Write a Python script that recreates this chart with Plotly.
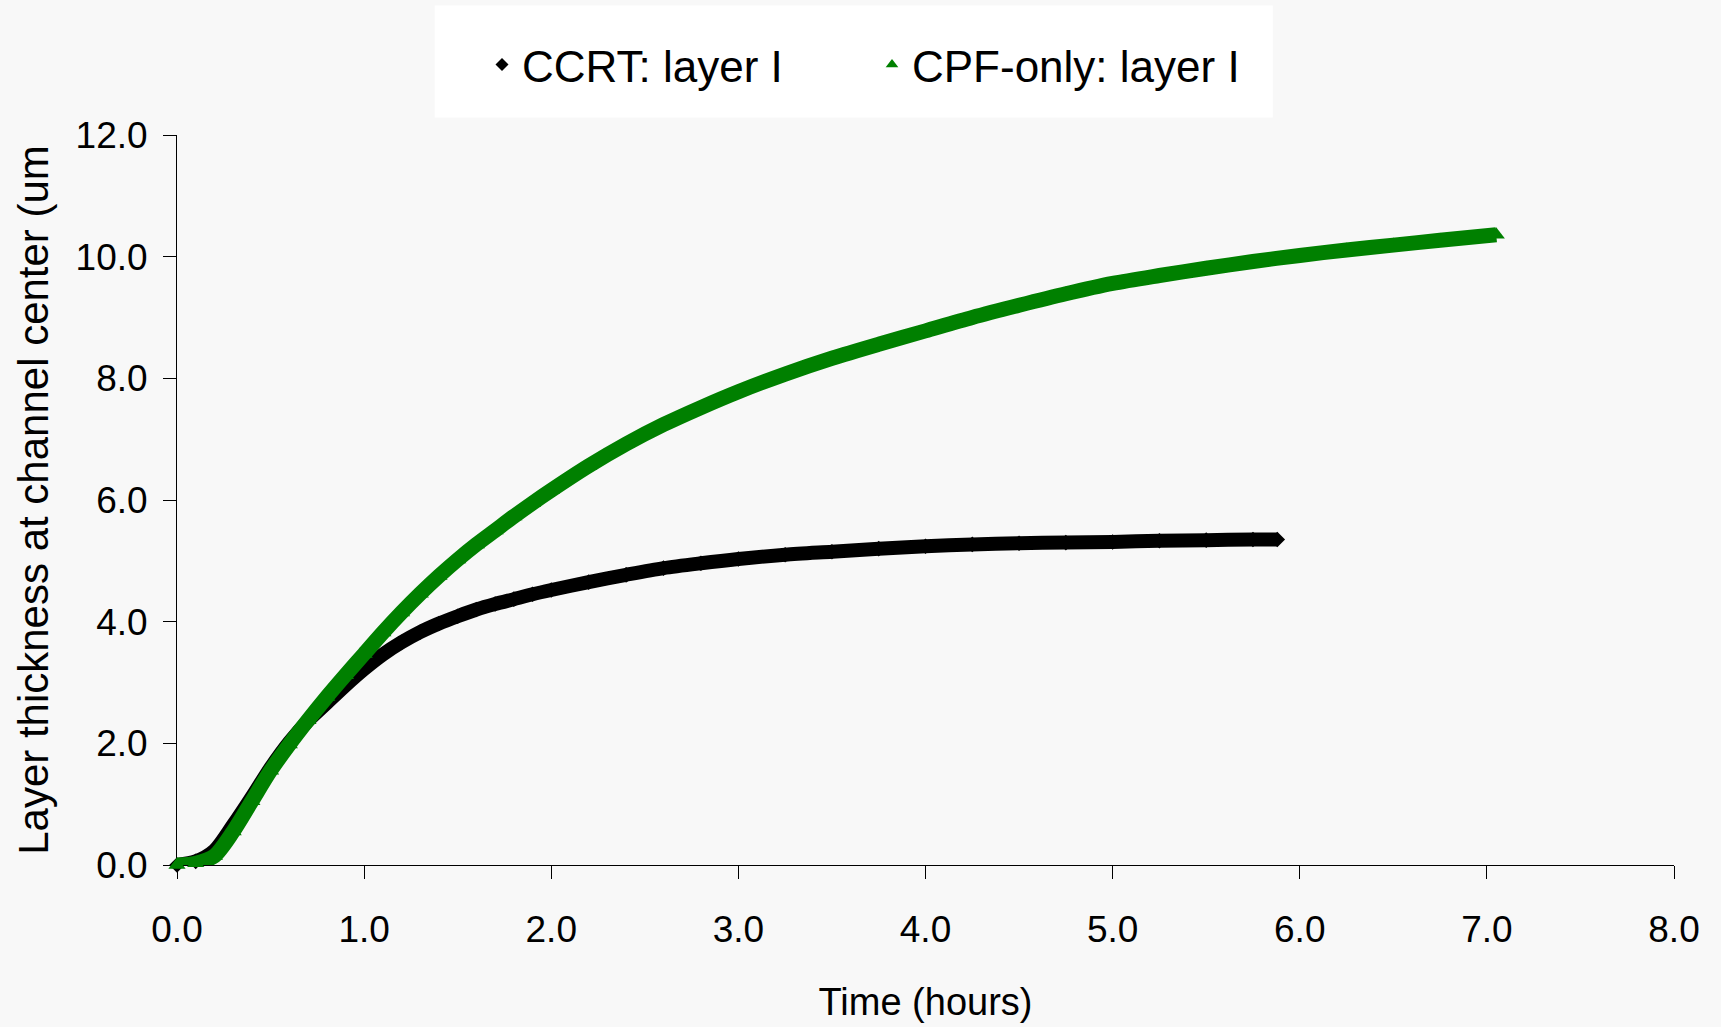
import plotly.graph_objects as go

# Layer I thickness at the channel center over time
ccrt_time = [0.0, 0.1, 0.2, 0.3, 0.4, 0.5, 0.6, 0.7, 0.8, 0.9,
             1.0, 1.1, 1.2, 1.3, 1.4, 1.5, 1.6, 1.7, 1.8, 1.9,
             2.0, 2.2, 2.4, 2.6, 2.8, 3.0, 3.25, 3.5, 3.75, 4.0,
             4.25, 4.5, 4.75, 5.0, 5.25, 5.5, 5.75, 5.88]
ccrt_thickness = [0.00, 0.06, 0.24, 0.66, 1.12, 1.60, 2.02, 2.37, 2.66, 2.95,
                  3.22, 3.46, 3.66, 3.83, 3.97, 4.09, 4.20, 4.29, 4.37, 4.45,
                  4.52, 4.65, 4.77, 4.88, 4.96, 5.03, 5.10, 5.15, 5.20, 5.24,
                  5.27, 5.29, 5.30, 5.31, 5.33, 5.34, 5.35, 5.35]

cpf_time = [0.0, 0.1, 0.2, 0.3, 0.4, 0.5, 0.6, 0.7, 0.8, 0.9,
            1.0, 1.1, 1.2, 1.3, 1.4, 1.5, 1.6, 1.7, 1.8, 1.9,
            2.0, 2.2, 2.4, 2.6, 2.8, 3.0, 3.25, 3.5, 3.75, 4.0,
            4.25, 4.5, 4.75, 5.0, 5.25, 5.5, 5.75, 6.0, 6.25, 6.5,
            6.75, 7.05]
cpf_thickness = [0.00, 0.03, 0.15, 0.55, 1.05, 1.55, 1.98, 2.38, 2.76, 3.12,
                 3.47, 3.82, 4.15, 4.46, 4.75, 5.02, 5.27, 5.50, 5.73, 5.95,
                 6.16, 6.56, 6.92, 7.24, 7.52, 7.78, 8.07, 8.33, 8.56, 8.78,
                 9.00, 9.20, 9.39, 9.56, 9.69, 9.81, 9.92, 10.02, 10.11, 10.19,
                 10.27, 10.36]

x_ticks = [0, 1, 2, 3, 4, 5, 6, 7, 8]
y_ticks = [0, 2, 4, 6, 8, 10, 12]

FONT = "Liberation Sans, Arial, sans-serif"
BG = "#f8f8f8"
BLACK = "#000000"
GREEN = "#008000"

fig = go.Figure()

# thick bands drawn by the series themselves
fig.add_trace(go.Scatter(
    x=ccrt_time, y=ccrt_thickness, mode="lines+markers",
    line=dict(color=BLACK, width=14, shape="spline", smoothing=0.8),
    marker=dict(symbol="diamond", size=12, color=BLACK),
    cliponaxis=False, showlegend=False, hoverinfo="skip"))
fig.add_trace(go.Scatter(
    x=cpf_time, y=cpf_thickness, mode="lines+markers",
    line=dict(color=GREEN, width=15, shape="spline", smoothing=0.8),
    marker=dict(symbol="triangle-up", size=15, color=GREEN),
    cliponaxis=False, showlegend=False, hoverinfo="skip"))

# legend entries (marker only)
fig.add_trace(go.Scatter(
    x=[None], y=[None], mode="markers", name="CCRT: layer I",
    marker=dict(symbol="diamond", size=10, color=BLACK)))
fig.add_trace(go.Scatter(
    x=[None], y=[None], mode="markers", name="CPF-only: layer I",
    marker=dict(symbol="triangle-up", size=11, color=GREEN)))

# white legend panel
fig.add_shape(type="rect", xref="paper", yref="paper",
              x0=0.1721, x1=0.732, y0=1.024, y1=1.1773,
              fillcolor="white", line=dict(width=0), layer="below")

axis_common = dict(
    showgrid=False, zeroline=False, showline=True,
    linecolor=BLACK, linewidth=1,
    ticks="outside", ticklen=13, tickwidth=1, tickcolor=BLACK,
    tickfont=dict(family=FONT, size=37, color=BLACK),
    tickformat=".1f", layer="below traces",
)

fig.update_layout(
    width=1721, height=1027,
    margin=dict(l=177, r=47, t=135, b=162),
    paper_bgcolor=BG, plot_bgcolor=BG,
    font=dict(family=FONT, color=BLACK),
    xaxis=dict(range=[0, 8], tickvals=x_ticks, ticklabelstandoff=19,
               title=dict(text="Time (hours)", standoff=38,
                          font=dict(family=FONT, size=38, color=BLACK)),
               **axis_common),
    yaxis=dict(range=[0, 12], tickvals=y_ticks, ticklabelstandoff=8,
               title=dict(text="Layer thickness at channel center (um", standoff=13,
                          font=dict(family=FONT, size=42, color=BLACK)),
               **axis_common),
    legend=dict(orientation="h", xref="container", yref="container",
                x=(487 - 5) / 1721, y=1 - 65 / 1027,
                xanchor="left", yanchor="middle",
                bgcolor="rgba(0,0,0,0)", borderwidth=0,
                font=dict(family=FONT, size=44, color=BLACK),
                entrywidth=345, itemsizing="trace"),
    showlegend=True,
)

fig.write_html("out.html")
